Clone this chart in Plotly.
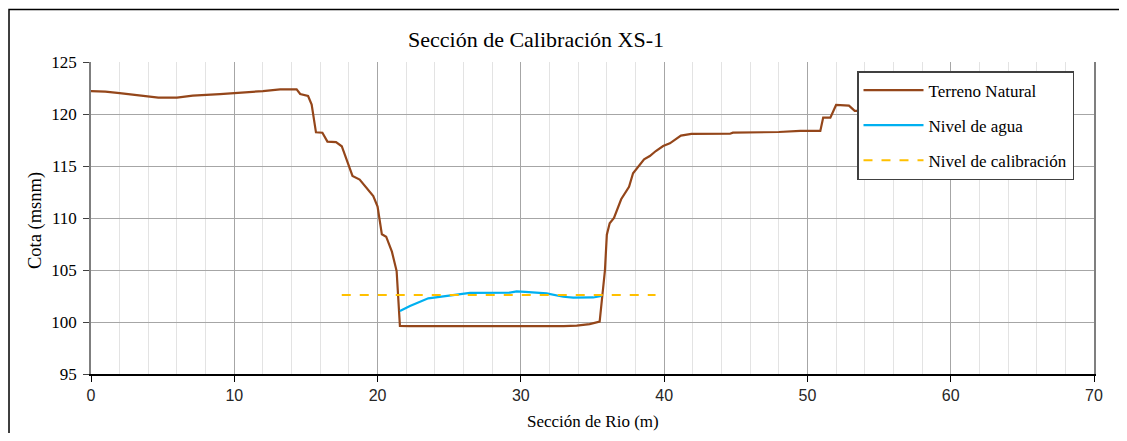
import plotly.graph_objects as go

# ---- data ----
terreno_x = [0, 1, 2, 3, 3.9, 4.7, 6.0, 7.1, 9.0, 10.0, 12.0, 13.2, 14.35, 14.6, 15.15,
             15.4, 15.7, 16.15, 16.5, 17.1, 17.5, 18.25, 18.75, 19.7, 20.0, 20.3, 20.6,
             21.0, 21.33, 21.56, 22.2, 33.0, 33.9, 34.8, 35.5, 35.87, 36.0, 36.2, 36.5,
             37.0, 37.55, 37.83, 38.18, 38.6, 39.0, 39.42, 39.93, 40.4, 41.17, 41.9,
             44.6, 44.8, 48.0, 49.5, 50.9, 51.1, 51.6, 52.0, 52.9, 53.3, 55.0]
terreno_y = [122.2, 122.15, 122.0, 121.85, 121.72, 121.57, 121.57, 121.76, 121.92, 122.0,
             122.2, 122.37, 122.37, 121.92, 121.73, 120.9, 118.24, 118.2, 117.34, 117.3,
             116.9, 114.05, 113.7, 112.1, 111.1, 108.43, 108.2, 106.76, 104.9, 99.62,
             99.6, 99.6, 99.65, 99.8, 100.03, 105.0, 108.4, 109.5, 110.0, 111.8, 113.0,
             114.3, 114.94, 115.64, 115.96, 116.44, 116.92, 117.18, 117.92, 118.08, 118.1,
             118.2, 118.27, 118.37, 118.37, 119.65, 119.65, 120.87, 120.8, 120.3, 120.3]

agua_x = [21.56, 22.26, 23.54, 24.82, 26.45, 29.24, 29.7, 30.3, 31.8, 32.96, 33.66, 35.05, 35.63]
agua_y = [101.06, 101.54, 102.28, 102.5, 102.8, 102.83, 102.94, 102.9, 102.75, 102.43,
          102.34, 102.36, 102.5]

calib_x = [17.5, 39.4]
calib_y = [102.6, 102.6]

x_ticks = [0, 10, 20, 30, 40, 50, 60, 70]
y_ticks = [95, 100, 105, 110, 115, 120, 125]

SERIF = "Liberation Serif, Times New Roman, serif"
SANS = "Liberation Sans, Arial, sans-serif"

# page has an 8px body margin; plot area in page pixels: x 91..1094, y 62..374
OFF = 8
W, H = 1127 - 2 * OFF, 441 - 2 * OFF
PL, PR, PT, PB = 91 - OFF, 1094 - OFF, 62 - OFF, 374 - OFF
PW, PH = PR - PL, PB - PT


def px(xp):
    return (xp - OFF - PL) / PW


def py(yp):
    return (PB - (yp - OFF)) / PH


fig = go.Figure()
fig.add_trace(go.Scatter(x=terreno_x, y=terreno_y, mode="lines", name="Terreno Natural",
                         legendgroup="a", line=dict(color="#94461A", width=2.2)))
fig.add_trace(go.Scatter(x=agua_x, y=agua_y, mode="lines", name="Nivel de agua",
                         legendgroup="b", line=dict(color="#00B0F0", width=2.2)))
fig.add_trace(go.Scatter(x=calib_x, y=calib_y, mode="lines", name="Nivel de calibración",
                         legendgroup="c", line=dict(color="#FFC000", width=2, dash="dash")))

border_path = "M {:.5f},{:.5f} L {:.5f},{:.5f} L {:.5f},{:.5f}".format(
    px(9), py(440), px(9), py(9.5), px(1135), py(9.5))

fig.update_layout(
    width=W, height=H,
    margin=dict(l=PL, r=W - PR, t=PT, b=H - PB),
    paper_bgcolor="white", plot_bgcolor="white",
    showlegend=True,
    legend=dict(x=px(857), y=py(71), xanchor="left", yanchor="top",
                bgcolor="white", bordercolor="#404040", borderwidth=1.5,
                font=dict(family=SERIF, size=17, color="#000000"),
                tracegroupgap=10, itemwidth=60),
    xaxis=dict(range=[0, 70], tickvals=x_ticks, ticktext=[str(v) for v in x_ticks],
               showgrid=True, gridcolor="#A6A6A6", gridwidth=1,
               minor=dict(dtick=2, showgrid=True, gridcolor="#E3E3E3", gridwidth=1),
               showline=True, linecolor="#000000", linewidth=1.5,
               ticks="outside", ticklen=6, tickcolor="#000000",
               tickfont=dict(family=SANS, size=16, color="#262626"),
               zeroline=False),
    yaxis=dict(range=[95, 125], tickvals=y_ticks, ticktext=[str(v) for v in y_ticks],
               showgrid=True, gridcolor="#A6A6A6", gridwidth=1,
               showline=True, linecolor="#7F7F7F", linewidth=1.5, mirror=True,
               ticks="outside", ticklen=6, tickcolor="#404040", ticklabelstandoff=3,
               tickfont=dict(family=SERIF, size=17, color="#000000"),
               zeroline=False),
    annotations=[
        dict(text="Sección de Calibración XS-1", xref="paper", yref="paper",
             x=px(536), y=py(39), xanchor="center", yanchor="middle", showarrow=False,
             font=dict(family=SERIF, size=22, color="#000000")),
        dict(text="Sección de Rio (m)", xref="paper", yref="paper",
             x=px(593), y=py(421), xanchor="center", yanchor="middle",
             showarrow=False, font=dict(family=SERIF, size=17, color="#000000")),
        dict(text="Cota (msnm)", xref="paper", yref="paper", textangle=-90,
             x=px(35), y=py(221), xanchor="center", yanchor="middle",
             showarrow=False, font=dict(family=SERIF, size=18.5, color="#000000")),
    ],
    shapes=[
        dict(type="path", xref="paper", yref="paper", path=border_path,
             line=dict(color="#000000", width=1.5), fillcolor="rgba(0,0,0,0)", layer="below"),
    ],
)

fig.write_html("out.html")
